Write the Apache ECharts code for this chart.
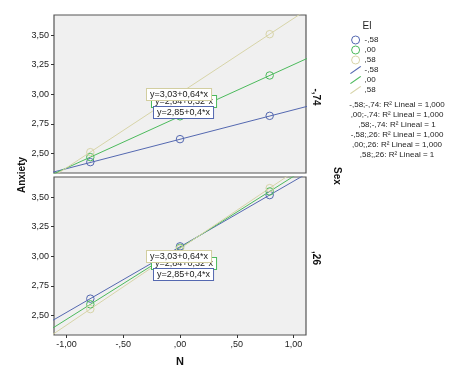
<!DOCTYPE html>
<html><head><meta charset="utf-8">
<script src="https://cdn.jsdelivr.net/npm/echarts@6/dist/echarts.min.js"></script>
<style>html,body{margin:0;padding:0;background:#fff}#c{width:449px;height:371px}</style>
</head><body><div id="c"></div>
<script>
// ---- data ----
const groups = ['-,58', ',00', ',58'];           // El
const panels = ['-,74', ',26'];                  // Sex
const xPoints = [-0.79, 0, 0.79];                // N
// observed points (Anxiety) per panel per group
const top_m58 = [2.427, 2.621, 2.818];
const top_00  = [2.469, 2.814, 3.159];
const top_58  = [2.511, 3.010, 3.508];
const bot_m58 = [2.642, 3.084, 3.517];
const bot_00  = [2.594, 3.071, 3.548];
const bot_58  = [2.554, 3.065, 3.576];
// fit line endpoints at lineX
const lineX = [-1.2, 1.2];
const topLine_m58 = [2.322, 2.918];
const topLine_00  = [2.290, 3.338];
const topLine_58  = [2.253, 3.767];
const botLine_m58 = [2.415, 3.745];
const botLine_00  = [2.346, 3.796];
const botLine_58  = [2.289, 3.841];
const yTicks = [2.5, 2.75, 3.0, 3.25, 3.5];
const yTickLabels = ['2,50', '2,75', '3,00', '3,25', '3,50'];
const xTicks = [-1, -0.5, 0, 0.5, 1];
const xTickLabels = ['-1,00', '-,50', ',00', ',50', '1,00'];
const fitLabels = ['y=2,85+0,4*x', 'y=2,84+0,32*x', 'y=3,03+0,64*x'];
const r2Labels = ['-,58;-,74: R² Lineal = 1,000', ',00;-,74: R² Lineal = 1,000', ',58;-,74: R² Lineal = 1',
                  '-,58;,26: R² Lineal = 1,000', ',00;,26: R² Lineal = 1,000', ',58;,26: R² Lineal = 1'];

const colors = ['#5468b0', '#4cba5c', '#d7d4a8'];
const FONT = 'Liberation Sans, Arial, sans-serif';

const pts = [[top_m58, top_00, top_58], [bot_m58, bot_00, bot_58]];
const lines = [[topLine_m58, topLine_00, topLine_58], [botLine_m58, botLine_00, botLine_58]];

const grids = [
  {left: 54, top: 15, width: 252, height: 158},
  {left: 54, top: 177, width: 252, height: 158}
].map(g => Object.assign(g, {show: true, backgroundColor: '#f0f0f0', borderColor: '#555', borderWidth: 1.2}));

const xAxes = [0, 1].map(i => ({
  type: 'value', gridIndex: i, min: -1.11, max: 1.11, position: 'bottom',
  axisLine: {show: false, onZero: false}, splitLine: {show: false},
  axisTick: {show: i === 1, length: 3, lineStyle: {color: '#333'}, customValues: xTicks},
  axisLabel: {show: i === 1, customValues: xTicks, fontFamily: FONT, fontSize: 9, color: '#222', margin: 5,
    formatter: v => xTickLabels[xTicks.findIndex(t => Math.abs(t - v) < 1e-6)] || ''},
  name: i === 1 ? 'N' : '', nameLocation: 'middle', nameGap: 21,
  nameTextStyle: {fontFamily: FONT, fontSize: 11, fontWeight: 'bold', color: '#111'}
}));
const yAxes = [0, 1].map(i => ({
  type: 'value', gridIndex: i, min: 2.335, max: 3.67, position: 'left',
  axisLine: {show: false, onZero: false}, splitLine: {show: false},
  axisTick: {show: true, length: 3, lineStyle: {color: '#333'}, customValues: yTicks},
  axisLabel: {customValues: yTicks, fontFamily: FONT, fontSize: 9, color: '#222', margin: 5,
    formatter: v => yTickLabels[yTicks.findIndex(t => Math.abs(t - v) < 1e-6)] || ''}
}));

const series = [];
for (let p = 0; p < 2; p++) {
  for (let g = 0; g < 3; g++) {
    series.push({
      type: 'line', name: groups[g] + ' ', xAxisIndex: p, yAxisIndex: p,
      data: lineX.map((x, k) => [x, lines[p][g][k]]), showSymbol: false, symbol: 'none',
      lineStyle: {color: colors[g], width: 1}, itemStyle: {color: colors[g]}, clip: true, z: 2, silent: true
    });
  }
  for (let g = 0; g < 3; g++) {
    series.push({
      type: 'scatter', name: groups[g], xAxisIndex: p, yAxisIndex: p,
      data: xPoints.map((x, k) => [x, pts[p][g][k]]), symbol: 'circle', symbolSize: 7.5,
      itemStyle: {color: 'rgba(0,0,0,0)', borderColor: colors[g], borderWidth: 1, opacity: 1}, z: 3, silent: true
    });
  }
}

const legendData = groups.map((n, i) => ({name: n, icon: 'circle',
    itemStyle: {color: 'rgba(0,0,0,0)', borderColor: colors[i], borderWidth: 1}})).concat(
  groups.map(n => ({name: n + ' ', icon: 'path://M0,9 L1,10 L14,1 L13,0 Z'})));

const graphic = [];
function box(txt, x, y, c, z) {
  graphic.push({type: 'text', left: x, top: y, z: z,
    style: {text: txt, fontFamily: FONT, fontSize: 9, fill: '#222', backgroundColor: '#fff',
      borderColor: c, borderWidth: 1, padding: [1, 3, 1, 3]}});
}
const offs = [0, 162];
for (let p = 0; p < 2; p++) {
  box(fitLabels[1], 151, 95 + offs[p], colors[1], 100);
  box(fitLabels[0], 153, 106 + offs[p], colors[0], 102);
  box(fitLabels[2], 146, 88 + offs[p], '#d2cea0', 101);
}
graphic.push({type: 'text', x: 316, y: 97, rotation: -Math.PI / 2,
  style: {text: panels[0], fontFamily: FONT, fontSize: 10, fontWeight: 'bold', fill: '#111', align: 'center', verticalAlign: 'middle'}});
graphic.push({type: 'text', x: 316, y: 258, rotation: -Math.PI / 2,
  style: {text: panels[1], fontFamily: FONT, fontSize: 10, fontWeight: 'bold', fill: '#111', align: 'center', verticalAlign: 'middle'}});
graphic.push({type: 'text', x: 337, y: 176, rotation: -Math.PI / 2,
  style: {text: 'Sex', fontFamily: FONT, fontSize: 10, fontWeight: 'bold', fill: '#111', align: 'center', verticalAlign: 'middle'}});
graphic.push({type: 'text', x: 22, y: 175, rotation: Math.PI / 2,
  style: {text: 'Anxiety', fontFamily: FONT, fontSize: 10, fontWeight: 'bold', fill: '#111', align: 'center', verticalAlign: 'middle'}});
graphic.push({type: 'text', x: 367, y: 26,
  style: {text: 'El', fontFamily: FONT, fontSize: 10, fill: '#222', align: 'center', verticalAlign: 'middle'}});
r2Labels.forEach((t, i) => graphic.push({type: 'text', x: 397, y: 104.3 + i * 10,
  style: {text: t, fontFamily: FONT, fontSize: 8, fill: '#222', align: 'center', verticalAlign: 'middle'}}));

const chart = echarts.init(document.getElementById('c'), null, {renderer: 'canvas'});
chart.setOption({
  animation: false,
  grid: grids, xAxis: xAxes, yAxis: yAxes, series: series,
  legend: {data: legendData, orient: 'vertical', left: 350, top: 35, itemWidth: 14, itemHeight: 8, itemGap: 0,
    padding: 0, selectedMode: false,
    textStyle: {fontFamily: FONT, fontSize: 8, color: '#222', lineHeight: 10, height: 10, padding: [0, 0, 0, -3]},
    formatter: n => n.trim()},
  graphic: graphic
});
</script></body></html>
